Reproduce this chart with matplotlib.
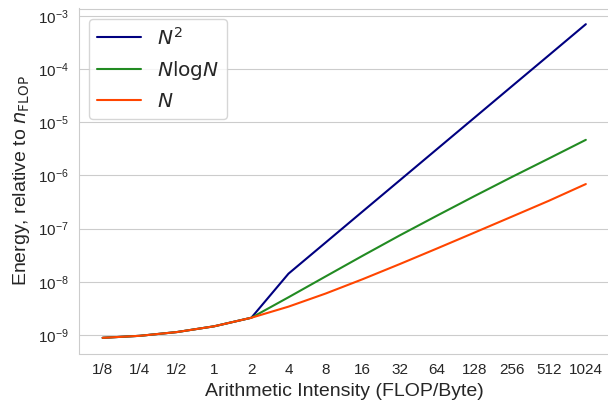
import matplotlib
matplotlib.use("Agg")
import matplotlib.pyplot as plt
import seaborn as sns

sns.set_style("whitegrid")
plt.rcParams["font.family"] = ["Liberation Sans", "DejaVu Sans"]
plt.rcParams["mathtext.fontset"] = "dejavusans"

intensity = ["1/8", "1/4", "1/2", "1", "2", "4", "8",
             "16", "32", "64", "128", "256", "512", "1024"]

energy_n = [8.8e-10, 9.6e-10, 1.13e-9, 1.45e-9, 2.1e-9, 3.4e-9, 6.0e-9,
            1.12e-8, 2.16e-8, 4.24e-8, 8.4e-8, 1.67e-7, 3.33e-7, 6.9e-7]

energy_nlogn = [8.8e-10, 9.6e-10, 1.13e-9, 1.45e-9, 2.1e-9, 5.1e-9, 1.26e-8,
                3.1e-8, 7.5e-8, 1.76e-7, 4.08e-7, 9.3e-7, 2.08e-6, 4.69e-6]

energy_n2 = [8.8e-10, 9.6e-10, 1.13e-9, 1.45e-9, 2.1e-9, 1.42e-8, 5.48e-8,
             2.12e-7, 8.18e-7, 3.16e-6, 1.22e-5, 4.72e-5, 1.82e-4, 7.05e-4]

fig = plt.figure(figsize=(6.08, 4.08), dpi=100)
ax = fig.add_axes([78.5 / 608, 54.5 / 408, 531.5 / 608, 345 / 408])

x = list(range(len(intensity)))

ax.plot(x, energy_n2, color="navy", lw=1.5, label=r"$N^2$")
ax.plot(x, energy_nlogn, color="forestgreen", lw=1.5, label=r"$N\mathrm{log}N$")
ax.plot(x, energy_n, color="orangered", lw=1.5, label=r"$N$")

ax.set_yscale("log")
ax.set_xticks(x)
ax.set_xticklabels(intensity)
ax.grid(axis="x", visible=False)
ax.tick_params(labelsize=11)

ax.set_xlabel("Arithmetic Intensity (FLOP/Byte)", fontsize=14)
ax.set_ylabel(r"Energy, relative to $n_{\mathrm{FLOP}}$", fontsize=14)

ax.legend(loc="upper left", fontsize=14.5, handlelength=2.2)

fig.savefig("out.png", dpi=100)
